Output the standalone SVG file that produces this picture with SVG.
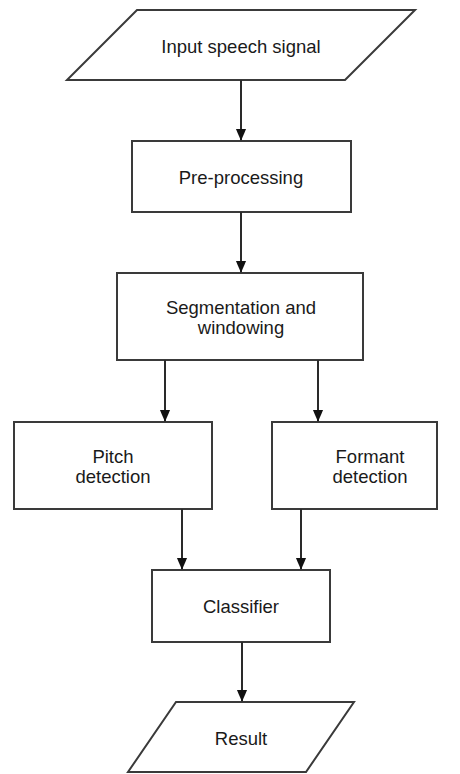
<svg xmlns="http://www.w3.org/2000/svg" width="460" height="774" viewBox="0 0 460 774">
<style>
.box{fill:#fff;stroke:#3a3a3a;stroke-width:2}
.lbl{font-family:"Liberation Sans",Arial,sans-serif;font-size:18.5px;fill:#1a1a1a;text-anchor:middle}
</style>
<defs>
<marker id="ah2" markerWidth="12" markerHeight="14" refX="13" refY="6" orient="auto" markerUnits="userSpaceOnUse" viewBox="0 0 14 12">
<path d="M0,0 L14,6 L0,12 Z" fill="#111"/>
</marker>
</defs>
<rect width="460" height="774" fill="#fff"/>
<g id="input">
<polygon class="box" points="137,10 415,10 345,80 67,80"/>
<text class="lbl" x="241" y="53">Input speech signal</text>
</g>
<g id="preprocessing">
<rect class="box" x="132" y="141" width="219" height="71"/>
<text class="lbl" x="241" y="184">Pre-processing</text>
</g>
<g id="segmentation">
<rect class="box" x="117" y="273" width="246" height="87"/>
<text class="lbl" x="241" y="314">Segmentation and</text>
<text class="lbl" x="241" y="334">windowing</text>
</g>
<g id="pitch">
<rect class="box" x="14" y="422" width="198" height="87"/>
<text class="lbl" x="113" y="463">Pitch</text>
<text class="lbl" x="113" y="483">detection</text>
</g>
<g id="formant">
<rect class="box" x="272" y="422" width="165" height="87"/>
<text class="lbl" x="370" y="463">Formant</text>
<text class="lbl" x="370" y="483">detection</text>
</g>
<g id="classifier">
<rect class="box" x="152" y="570" width="178" height="72"/>
<text class="lbl" x="241" y="613">Classifier</text>
</g>
<g id="result">
<polygon class="box" points="176,702 354,702 306,772 128,772"/>
<text class="lbl" x="241" y="745">Result</text>
</g>
<g id="connectors" stroke="#2a2a2a" stroke-width="2" fill="none">
<line x1="241" y1="80" x2="241" y2="140" marker-end="url(#ah2)"/>
<line x1="241" y1="212" x2="241" y2="272" marker-end="url(#ah2)"/>
<line x1="165" y1="360" x2="165" y2="421" marker-end="url(#ah2)"/>
<line x1="318" y1="360" x2="318" y2="421" marker-end="url(#ah2)"/>
<line x1="182" y1="509" x2="182" y2="569" marker-end="url(#ah2)"/>
<line x1="301" y1="509" x2="301" y2="569" marker-end="url(#ah2)"/>
<line x1="242" y1="642" x2="242" y2="701" marker-end="url(#ah2)"/>
</g>
</svg>
